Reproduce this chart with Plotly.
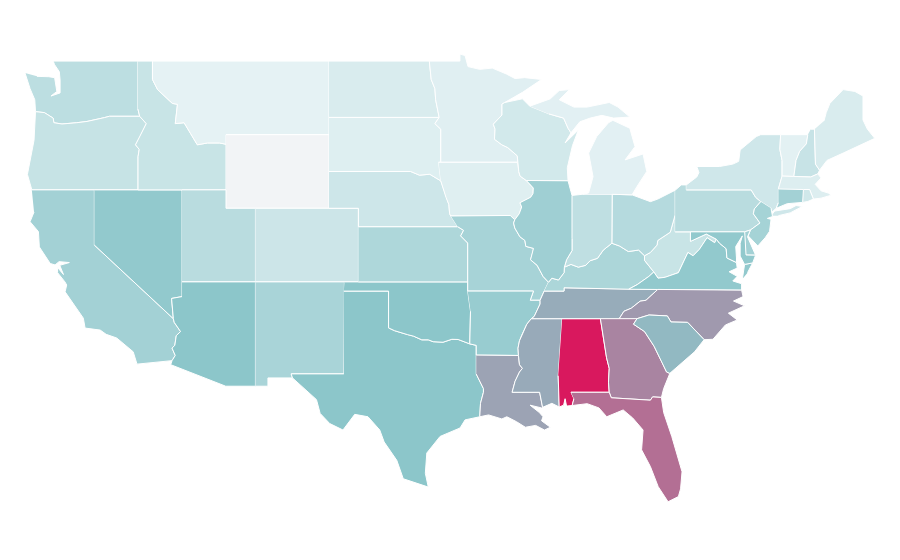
import plotly.graph_objects as go
from plotly.colors import sample_colorscale

# no hay topojson sin red: contornos (lon, lat) escritos a mano, None separa islas

# --- fronteras compartidas ---
mn_wi = [(-92.1, 46.75), (-92.29, 46.66), (-92.29, 46.07), (-92.88, 45.57), (-92.76, 45.3), (-92.8, 44.75), (-92.3, 44.45), (-91.9, 44.3), (-91.25, 43.85), (-91.22, 43.5)]
ia_wi = [(-91.22, 43.5), (-91.15, 43.0), (-91.06, 42.75), (-90.64, 42.51)]
il_ia = [(-90.64, 42.51), (-90.42, 42.33), (-90.16, 42.1), (-90.18, 41.8), (-90.34, 41.6), (-91.07, 41.3), (-90.95, 41.07), (-91.12, 40.7), (-91.42, 40.38)]
il_mo = [(-91.42, 40.38), (-91.5, 40.2), (-91.42, 39.93), (-91.07, 39.45), (-90.73, 39.25), (-90.67, 38.93), (-90.15, 38.82), (-90.2, 38.6), (-90.35, 38.2), (-89.9, 37.9), (-89.5, 37.3), (-89.13, 36.98)]
mo_tn = [(-89.13, 36.98), (-89.42, 36.5), (-89.7, 36.0)]
ar_tn = [(-89.7, 36.0), (-89.7, 35.8), (-90.1, 35.12), (-90.3, 35.0)]
ar_ms = [(-90.3, 35.0), (-90.6, 34.7), (-90.95, 34.1), (-91.1, 33.8), (-91.2, 33.4), (-91.17, 33.0)]
la_ms = [(-91.17, 33.0), (-91.1, 32.5), (-90.9, 32.3), (-91.1, 32.1), (-91.4, 31.6), (-91.6, 31.0), (-89.73, 31.0), (-89.53, 30.18)]
il_ky = [(-89.13, 36.98), (-88.9, 37.2), (-88.45, 37.1), (-88.07, 37.5), (-88.05, 37.8)]
in_ky = [(-88.05, 37.8), (-87.6, 37.95), (-87.1, 37.8), (-86.6, 37.9), (-86.3, 38.15), (-85.8, 38.28), (-85.4, 38.73), (-84.82, 39.1)]
oh_ky = [(-84.82, 39.1), (-84.3, 38.95), (-83.7, 38.65), (-83.0, 38.73), (-82.6, 38.42)]
oh_wv = [(-82.6, 38.42), (-82.2, 38.6), (-81.75, 39.0), (-81.7, 39.25), (-80.85, 39.7), (-80.52, 40.64)]
ky_wv = [(-82.6, 38.42), (-82.6, 38.17), (-81.97, 37.54)]
ky_va = [(-81.97, 37.54), (-82.3, 37.3), (-83.1, 36.85), (-83.68, 36.6)]
va_wv = [(-81.97, 37.54), (-81.68, 37.2), (-81.2, 37.25), (-80.3, 37.5), (-80.0, 38.0), (-79.65, 38.6), (-79.3, 38.42), (-78.87, 38.77), (-78.35, 39.4), (-77.83, 39.13), (-77.72, 39.32)]
ky_tn = [(-83.68, 36.6), (-86.5, 36.65), (-88.07, 36.68), (-88.07, 36.5), (-89.42, 36.5)]
nc_tn = [(-84.32, 35.0), (-84.0, 35.4), (-83.5, 35.57), (-82.9, 35.95), (-82.5, 36.0), (-81.7, 36.59)]
ga_sc = [(-83.11, 35.0), (-83.35, 34.7), (-82.6, 34.3), (-81.95, 33.5), (-81.4, 32.6), (-81.1, 32.1), (-80.88, 32.03)]
nc_sc = [(-83.11, 35.0), (-82.3, 35.2), (-81.05, 35.15), (-80.8, 34.82), (-79.67, 34.8), (-78.55, 33.86)]
al_ga = [(-85.6, 35.0), (-85.18, 32.87), (-85.0, 32.3), (-85.05, 31.55), (-85.0, 31.0)]
ok_tx = [(-100.0, 36.5), (-100.0, 34.5), (-99.6, 34.35), (-99.2, 34.25), (-98.7, 34.13), (-98.3, 34.05), (-97.74, 33.85), (-97.3, 33.85), (-96.97, 33.75), (-96.3, 33.72), (-95.7, 33.88), (-95.27, 33.87), (-94.48, 33.63)]
az_ca = [(-114.63, 35.0), (-114.57, 34.8), (-114.14, 34.3), (-114.43, 34.08), (-114.53, 33.55), (-114.72, 33.4), (-114.5, 33.0), (-114.72, 32.72)]
id_or = [(-117.03, 42.0), (-117.03, 43.8), (-116.95, 44.2), (-117.2, 44.45), (-116.9, 44.9), (-116.47, 45.6), (-116.92, 46.0)]
or_wa = [(-124.0, 46.25), (-123.4, 46.2), (-122.8, 45.9), (-122.75, 45.65), (-122.2, 45.58), (-121.2, 45.65), (-120.5, 45.72), (-119.3, 45.93), (-118.98, 46.0), (-116.92, 46.0)]
id_mt = [(-116.05, 49.0), (-116.05, 48.0), (-115.7, 47.45), (-114.7, 46.7), (-114.35, 46.65), (-114.5, 45.6), (-113.9, 45.65), (-113.45, 45.05), (-113.0, 44.45), (-112.3, 44.55), (-111.5, 44.55), (-111.05, 44.48)]
ne_sd = [(-104.05, 43.0), (-98.5, 43.0), (-97.9, 42.8), (-97.2, 42.85), (-96.45, 42.49)]
ia_ne = [(-96.45, 42.49), (-96.1, 41.6), (-95.9, 41.2), (-95.85, 40.7), (-95.77, 40.58)]
ks_mo = [(-95.3, 40.0), (-94.9, 39.8), (-95.1, 39.5), (-94.62, 39.11), (-94.62, 37.0)]
mn_sd = [(-96.45, 43.5), (-96.45, 45.3), (-96.85, 45.6), (-96.56, 45.94)]
mn_nd = [(-96.56, 45.94), (-96.8, 46.9), (-96.85, 47.5), (-97.1, 48.0), (-97.23, 49.0)]
md_va = [(-76.35, 38.05), (-77.0, 38.3), (-77.05, 38.8), (-77.5, 39.1), (-77.72, 39.32)]
md_wv = [(-77.72, 39.32), (-78.4, 39.6), (-79.48, 39.2), (-79.48, 39.72)]
nj_pa = [(-74.7, 41.36), (-75.13, 40.97), (-75.2, 40.7), (-74.75, 40.2), (-75.4, 39.82)]
ny_pa = [(-79.76, 42.0), (-75.35, 42.0), (-75.05, 41.6), (-74.7, 41.36)]
vt_nh = [(-71.5, 45.0), (-71.6, 44.5), (-72.05, 44.1), (-72.3, 43.6), (-72.45, 42.73)]
ny_vt = [(-73.35, 45.0), (-73.4, 44.2), (-73.25, 43.6), (-73.25, 42.75)]
me_nh = [(-71.05, 45.3), (-70.98, 43.4), (-70.7, 43.07)]

# --- contornos por estado ---
WA = [(-124.71, 48.35), (-124.37, 47.5), (-124.05, 46.9)] + or_wa + [(-117.04, 46.4), (-117.04, 49.0), (-122.8, 49.0), (-122.7, 48.8), (-122.38, 48.42), (-122.33, 47.97), (-122.33, 47.27), (-122.95, 47.1), (-122.55, 47.35), (-122.7, 48.1), (-123.1, 48.15), (-123.9, 48.17)]
OR = [(-124.0, 46.25), (-124.1, 44.7), (-124.55, 42.84), (-124.25, 42.0)] + id_or + or_wa[::-1]
CA = [(-124.25, 42.0), (-120.0, 42.0), (-120.0, 39.0)] + az_ca + [(-117.1, 32.53), (-117.36, 33.2), (-118.0, 33.65), (-118.48, 33.95), (-119.2, 34.15), (-119.6, 34.38), (-120.63, 34.49), (-120.75, 35.03), (-121.99, 36.46), (-121.88, 36.83), (-122.0, 37.0), (-122.5, 37.5), (-122.5, 37.78), (-122.1, 37.4), (-122.35, 37.9), (-121.7, 38.05), (-122.4, 38.1), (-122.67, 37.92), (-123.0, 38.0), (-123.74, 38.9), (-123.8, 39.73), (-124.37, 40.27), (-124.1, 40.8)]
NV = [(-120.0, 42.0), (-114.04, 42.0), (-114.04, 36.2), (-114.75, 36.1), (-114.63, 35.0), (-120.0, 39.0)]
ID = [(-117.04, 49.0)] + id_mt + [(-111.05, 42.0), (-114.04, 42.0)] + id_or + [(-117.04, 46.4)]
MT = [(-116.05, 49.0), (-104.05, 49.0), (-104.05, 45.0), (-111.05, 45.0)] + id_mt[::-1]
WY = [(-111.05, 45.0), (-104.05, 45.0), (-104.05, 41.0), (-111.05, 41.0)]
UT = [(-114.04, 42.0), (-111.05, 42.0), (-111.05, 41.0), (-109.05, 41.0), (-109.05, 37.0), (-114.04, 37.0)]
CO = [(-109.05, 41.0), (-102.05, 41.0), (-102.05, 37.0), (-109.05, 37.0)]
AZ = [(-114.04, 37.0), (-109.05, 37.0), (-109.05, 31.33), (-111.07, 31.33), (-114.81, 32.5)] + az_ca[::-1] + [(-114.75, 36.1), (-114.04, 36.2)]
NM = [(-109.05, 37.0), (-103.0, 37.0), (-103.04, 32.0), (-106.62, 32.0), (-106.53, 31.78), (-108.2, 31.78), (-108.2, 31.33), (-109.05, 31.33)]
TX = [(-103.04, 36.5)] + ok_tx + [(-94.04, 33.55), (-94.04, 31.99), (-93.55, 31.2), (-93.55, 31.0), (-93.75, 30.4), (-93.8, 29.67), (-94.8, 29.5), (-95.14, 29.06), (-96.5, 28.6), (-97.4, 27.7), (-97.5, 26.6), (-97.3, 25.85), (-99.0, 26.3), (-99.44, 27.3), (-100.3, 28.3), (-100.6, 28.95), (-101.4, 29.67), (-102.3, 29.8), (-103.1, 28.95), (-104.0, 29.3), (-104.65, 29.85), (-104.9, 30.6), (-105.9, 31.3), (-106.53, 31.78), (-106.62, 32.0), (-103.04, 32.0)]
OK = [(-103.0, 37.0), (-94.62, 37.0), (-94.62, 36.5), (-94.43, 35.4)] + ok_tx[::-1] + [(-103.04, 36.5)]
KS = [(-102.05, 40.0)] + ks_mo + [(-102.05, 37.0)]
NE = ne_sd + ia_ne + [(-95.3, 40.0), (-102.05, 40.0), (-102.05, 41.0), (-104.05, 41.0)]
SD = [(-104.05, 45.94)] + mn_sd[::-1] + [(-96.6, 43.5)] + ne_sd[::-1]
ND = [(-104.05, 49.0)] + mn_nd[::-1] + [(-104.05, 45.94)]
MN = [(-97.23, 49.0), (-95.15, 49.0), (-95.15, 49.38), (-94.8, 49.3), (-94.6, 48.7), (-93.8, 48.55), (-92.95, 48.62), (-92.0, 48.3), (-91.4, 48.05), (-90.75, 48.1), (-89.6, 48.0), (-90.9, 47.3)] + mn_wi + mn_sd + mn_nd
IA = [(-96.6, 43.5), (-91.22, 43.5)] + ia_wi + il_ia + [(-91.73, 40.61)] + ia_ne[::-1]
MO = [(-95.77, 40.58), (-91.73, 40.61)] + il_mo + mo_tn + [(-90.37, 36.0), (-90.15, 36.5), (-94.62, 36.5)] + ks_mo[::-1]
AR = [(-94.62, 36.5), (-90.15, 36.5), (-90.37, 36.0)] + ar_tn + ar_ms + [(-94.04, 33.02), (-94.04, 33.55), (-94.48, 33.63), (-94.43, 35.4)]
LA = [(-94.04, 33.02)] + la_ms + [(-89.6, 30.15), (-90.38, 30.3), (-89.75, 29.9), (-89.5, 29.67), (-89.6, 29.45), (-89.0, 29.1), (-89.4, 28.95), (-90.0, 29.2), (-90.7, 29.1), (-91.3, 29.4), (-91.96, 29.67), (-92.3, 29.55), (-93.2, 29.77), (-93.8, 29.67), (-93.75, 30.4), (-93.55, 31.0), (-93.55, 31.2), (-94.04, 31.99)]
MS = [(-90.3, 35.0), (-88.2, 35.0), (-88.47, 31.9), (-88.4, 30.2), (-88.9, 30.4)] + la_ms[::-1] + ar_ms[::-1]
AL = [(-88.2, 35.0)] + al_ga + [(-87.6, 31.0), (-87.4, 30.65), (-87.52, 30.28), (-87.9, 30.25), (-88.0, 30.65), (-88.1, 30.3), (-88.4, 30.2), (-88.47, 31.9)]
GA = al_ga + [(-84.86, 30.7), (-82.2, 30.57), (-82.05, 30.75), (-81.45, 30.72), (-81.3, 31.2)] + ga_sc[::-1]
FL = [(-87.6, 31.0), (-85.0, 31.0), (-84.86, 30.7), (-82.2, 30.57), (-82.05, 30.75), (-81.45, 30.72), (-81.3, 29.9), (-80.75, 28.6), (-80.05, 26.68), (-80.15, 25.75), (-80.3, 25.33), (-81.0, 25.05), (-81.67, 25.87), (-82.2, 26.96), (-82.8, 27.87), (-82.7, 28.95), (-83.4, 29.6), (-84.05, 30.04), (-85.17, 29.67), (-85.7, 30.15), (-86.5, 30.38), (-87.52, 30.28), (-87.4, 30.65)]
TN = [(-90.3, 35.0), (-88.2, 35.0), (-85.6, 35.0)] + nc_tn + ky_tn + [(-89.7, 36.0)] + ar_tn
KY = ky_tn[::-1] + ky_va[::-1] + ky_wv[::-1] + oh_ky[::-1] + in_ky[::-1] + il_ky[::-1]
WV = ky_wv + va_wv + md_wv + [(-80.52, 39.72)] + oh_wv[::-1]
VA = [(-83.68, 36.6), (-81.7, 36.59), (-76.0, 36.55), (-76.0, 36.9), (-76.6, 37.05), (-76.3, 37.3), (-76.85, 37.55), (-76.3, 37.75)] + md_va + va_wv[::-1] + ky_va + [None, (-75.95, 37.15), (-75.8, 37.95), (-75.25, 38.03), (-75.6, 37.5)]
NC = [(-84.32, 35.0)] + nc_sc + [(-77.95, 33.88), (-77.1, 34.66), (-76.3, 34.93), (-76.9, 35.3), (-75.8, 35.7), (-76.55, 35.96), (-75.9, 36.2), (-76.0, 36.55), (-81.7, 36.59)] + nc_tn[::-1]
SC = nc_sc + [(-79.2, 33.2), (-79.9, 32.7), (-80.45, 32.3)] + ga_sc[::-1]
OH = [(-84.82, 39.1), (-84.8, 41.76), (-83.45, 41.73), (-82.7, 41.5), (-82.2, 41.36), (-81.7, 41.5), (-80.52, 41.98)] + oh_wv[::-1] + oh_ky[::-1]
IN = [(-87.53, 41.7), (-86.82, 41.76), (-84.8, 41.76), (-84.82, 39.1)] + in_ky[::-1] + [(-87.9, 38.2), (-87.53, 38.7), (-87.53, 39.35)]
IL = [(-90.64, 42.51), (-87.8, 42.5), (-87.6, 41.9), (-87.53, 41.7), (-87.53, 39.35), (-87.53, 38.7), (-87.9, 38.2)] + il_ky[::-1] + il_mo[::-1] + il_ia[::-1]
WI = [(-92.1, 46.75), (-90.9, 46.95), (-90.4, 46.55), (-89.1, 46.13), (-88.1, 45.9), (-87.8, 45.35), (-87.6, 45.1), (-88.0, 44.55), (-87.1, 45.25), (-87.5, 44.4), (-87.85, 43.2), (-87.8, 42.5)] + ia_wi[::-1] + mn_wi[::-1]
MI = [(-86.82, 41.76), (-86.4, 41.83), (-86.1, 42.72), (-86.4, 44.0), (-85.85, 44.9), (-85.05, 45.65), (-84.75, 45.78), (-83.6, 45.35), (-83.25, 44.35), (-83.92, 43.63), (-82.7, 43.95), (-82.45, 43.0), (-83.1, 42.2), (-83.45, 41.73), (-84.8, 41.76), None, (-90.4, 46.55), (-89.0, 46.95), (-88.4, 47.4), (-87.7, 47.45), (-88.4, 46.9), (-87.4, 46.5), (-86.5, 46.5), (-85.0, 46.75), (-84.4, 46.5), (-83.6, 45.96), (-84.7, 45.9), (-85.5, 46.05), (-86.3, 45.9), (-87.0, 45.7), (-87.6, 45.1), (-87.8, 45.35), (-88.1, 45.9), (-89.1, 46.13)]
PA = [(-80.52, 41.98), (-80.1, 42.27), (-79.76, 42.27)] + ny_pa + nj_pa + [(-75.79, 39.72), (-80.52, 39.72)]
NY = [(-79.76, 42.27), (-79.05, 42.7), (-78.9, 42.95), (-79.05, 43.27), (-77.5, 43.27), (-76.6, 43.4), (-76.2, 43.55), (-76.1, 44.17), (-75.0, 44.9), (-74.7, 45.0)] + ny_vt + [(-73.5, 42.05), (-73.5, 41.3), (-73.65, 41.0), (-74.0, 40.75), (-74.0, 41.0)] + ny_pa[::-1] + [None, (-74.0, 40.6), (-73.75, 40.85), (-72.7, 40.98), (-72.3, 41.15), (-71.87, 41.1), (-72.7, 40.75), (-73.5, 40.6)]
NJ = [(-74.0, 41.0), (-73.9, 40.55), (-74.25, 40.45), (-74.0, 40.4), (-74.1, 39.75), (-74.4, 39.4), (-74.9, 38.95), (-75.55, 39.5)] + nj_pa[::-1]
DE = [(-75.79, 39.72), (-75.4, 39.82), (-75.6, 39.45), (-75.4, 39.05), (-75.05, 38.45), (-75.7, 38.46)]
MD = [(-79.48, 39.72), (-75.79, 39.72), (-75.7, 38.46), (-75.05, 38.45), (-75.25, 38.03), (-75.8, 37.95), (-76.1, 38.4), (-76.1, 39.1), (-75.95, 39.5), (-76.4, 38.92), (-76.35, 38.3)] + md_va + md_wv
VT = [(-73.35, 45.0)] + vt_nh + ny_vt[::-1]
NH = vt_nh + [(-71.3, 42.7), (-70.82, 42.87)] + me_nh[::-1] + [(-71.3, 45.3)]
ME = me_nh + [(-70.2, 43.6), (-69.1, 44.0), (-68.3, 44.3), (-66.95, 44.8), (-67.45, 45.3), (-67.75, 45.8), (-67.75, 47.1), (-68.3, 47.35), (-69.1, 47.45), (-70.0, 46.7), (-70.25, 46.2), (-70.4, 45.75)]
MA = [(-73.5, 42.05), (-73.25, 42.75), (-72.45, 42.73), (-71.3, 42.7), (-70.82, 42.87), (-70.6, 42.65), (-71.0, 42.3), (-70.6, 41.95), (-70.0, 41.8), (-70.2, 42.07), (-69.95, 41.7), (-70.6, 41.55), (-71.12, 41.5), (-71.38, 42.02), (-71.8, 42.02)]
RI = [(-71.8, 42.02), (-71.38, 42.02), (-71.12, 41.5), (-71.5, 41.37), (-71.85, 41.32)]
CT = [(-73.5, 42.05), (-71.8, 42.02), (-71.85, 41.32), (-72.9, 41.25), (-73.65, 41.0), (-73.5, 41.3)]

states = ['WA', 'OR', 'CA', 'NV', 'ID', 'MT', 'WY', 'UT', 'CO', 'AZ', 'NM', 'TX', 'OK', 'KS', 'NE', 'SD', 'ND', 'MN', 'IA', 'MO', 'AR', 'LA', 'MS', 'AL', 'GA', 'FL', 'TN', 'KY', 'WV', 'VA', 'NC', 'SC', 'OH', 'IN', 'IL', 'WI', 'MI', 'PA', 'NY', 'NJ', 'DE', 'MD', 'VT', 'NH', 'ME', 'MA', 'RI', 'CT']
outlines = [WA, OR, CA, NV, ID, MT, WY, UT, CO, AZ, NM, TX, OK, KS, NE, SD, ND, MN, IA, MO, AR, LA, MS, AL, GA, FL, TN, KY, WV, VA, NC, SC, OH, IN, IL, WI, MI, PA, NY, NJ, DE, MD, VT, NH, ME, MA, RI, CT]
# valor estimado a partir del color
values = [17.9, 14.8, 25.8, 31, 14, 5, 0, 19, 13, 33, 23.9, 33, 33, 22.3, 12.5, 7.2, 8.8, 6.6, 6.9, 24.5, 29.2, 46.5, 43.7, 100, 58.5, 66.5, 43, 23, 14, 31, 50.5, 38, 20, 17, 27, 11, 6, 19, 12, 25, 25.8, 31, 5.6, 14.4, 8.8, 7.5, 11.6, 25.8]
escala = [[0, '#f2f4f6'], [0.05, '#e5f2f4'], [0.33, '#8cc6ca'], [1, '#d9185e']]

fig = go.Figure()
for estado, contorno, valor in zip(states, outlines, values):
    xs = [p[0] if p else None for p in contorno]
    ys = [p[1] if p else None for p in contorno]
    color = sample_colorscale(escala, valor / 100)[0]
    fig.add_trace(go.Scatter(x=xs, y=ys, name=estado, mode='lines', fill='toself', fillcolor=color, line=dict(color='white', width=1)))

# rango desplazado 8 px por el margen del body de la pagina
fig.update_xaxes(visible=False, range=[-125.87, -64.69])
fig.update_yaxes(visible=False, range=[21.45, 51.885])
fig.update_layout(width=900, height=560, margin=dict(l=0, r=0, t=0, b=0), showlegend=False, paper_bgcolor='white', plot_bgcolor='white')
fig.write_html("out.html")
